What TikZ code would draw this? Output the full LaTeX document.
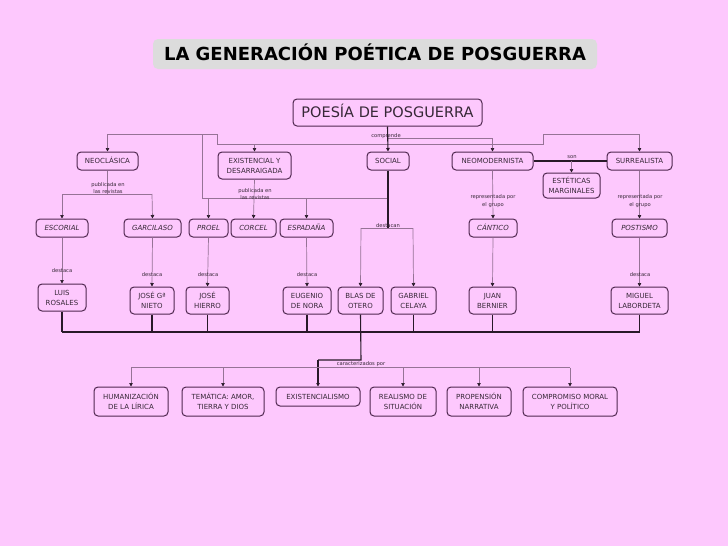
\documentclass[tikz,border=0pt]{standalone}
\usepackage{fontspec}
\setmainfont{DejaVu Sans}
\usetikzlibrary{arrows.meta}
\definecolor{bg}{RGB}{253,200,253}
\definecolor{boxc}{RGB}{80,40,80}
\definecolor{txt}{RGB}{55,40,55}
\definecolor{thinc}{RGB}{150,115,150}
\definecolor{thickc}{RGB}{40,25,40}
\definecolor{titlebg}{RGB}{220,220,220}
\newcommand{\boxfont}{\fontsize{7}{10}\selectfont}
\newcommand{\labfont}{\fontsize{5.2}{7.2}\selectfont}
\tikzset{
  cbox/.style={draw=boxc, line width=1pt, rounded corners=4pt, fill=bg, text=txt, font=\boxfont, align=center, inner sep=0pt},
  sbox/.style={cbox, text height=5.1pt, text depth=0pt},
  ibox/.style={sbox, font=\boxfont\itshape},
  lab/.style={font=\labfont, text=txt, inner sep=0pt, align=center},
  thinline/.style={draw=thinc, line width=0.7pt},
  thickline/.style={draw=thickc, line width=1.1pt},
  arr/.style={-{Triangle[length=3.5pt,width=3.5pt,color=thickc]}},
}
\begin{document}
\begin{tikzpicture}[x=1pt,y=-1pt]
\path[fill=bg] (0,0) rectangle (728,546);
\useasboundingbox (0,0) rectangle (728,546);

% title
\node[fill=titlebg, rounded corners=5pt, minimum width=444pt, minimum height=30pt, inner sep=0pt, text height=13pt, text depth=0pt, font=\fontsize{18}{21}\selectfont\bfseries] (title) at (375,54) {LA GENERACIÓN POÉTICA DE POSGUERRA};

% main
\node[cbox, font=\fontsize{14.5}{16}\selectfont, text height=10.5pt, text depth=0pt, minimum width=189pt, minimum height=27pt] (poesia) at (387.5,112.5) {POESÍA DE POSGUERRA};

% row 1
\node[sbox, minimum width=61pt, minimum height=18pt] (neo) at (107.5,161) {NEOCLÁSICA};
\node[cbox, minimum width=73pt, minimum height=27pt] (exis) at (254.5,165.5) {EXISTENCIAL Y\\DESARRAIGADA};
\node[sbox, minimum width=42pt, minimum height=18pt] (social) at (388,161) {SOCIAL};
\node[sbox, minimum width=81pt, minimum height=18pt] (neomod) at (492.5,161) {NEOMODERNISTA};
\node[sbox, minimum width=65pt, minimum height=18pt] (surr) at (639.5,161) {SURREALISTA};
\node[cbox, minimum width=57pt, minimum height=25pt] (estet) at (571.5,185.5) {ESTÉTICAS\\MARGINALES};

% row 2
\node[ibox, minimum width=52pt, minimum height=18pt] (escorial) at (62,228) {ESCORIAL};
\node[ibox, minimum width=57pt, minimum height=18pt] (garcilaso) at (152.5,228) {GARCILASO};
\node[ibox, minimum width=39pt, minimum height=18pt] (proel) at (208.5,228) {PROEL};
\node[ibox, minimum width=45pt, minimum height=18pt] (corcel) at (253.5,228) {CORCEL};
\node[ibox, minimum width=53pt, minimum height=18pt] (espadana) at (306.5,228) {ESPADAÑA};
\node[ibox, minimum width=48pt, minimum height=18pt] (cantico) at (493,228) {CÁNTICO};
\node[ibox, minimum width=55pt, minimum height=18pt] (postismo) at (639.5,228) {POSTISMO};

% row 3
\node[cbox, minimum width=48pt, minimum height=27pt] (luis) at (62,297.5) {LUIS\\ROSALES};
\node[cbox, minimum width=44pt, minimum height=27pt] (josen) at (152,300.5) {JOSÉ Gª\\NIETO};
\node[cbox, minimum width=43pt, minimum height=27pt] (joseh) at (207.5,300.5) {JOSÉ\\HIERRO};
\node[cbox, minimum width=48pt, minimum height=27pt] (eugenio) at (307,300.5) {EUGENIO\\DE NORA};
\node[cbox, minimum width=45pt, minimum height=27pt] (blas) at (360.5,300.5) {BLAS DE\\OTERO};
\node[cbox, minimum width=45pt, minimum height=27pt] (gabriel) at (413.5,300.5) {GABRIEL\\CELAYA};
\node[cbox, minimum width=47pt, minimum height=27pt] (juan) at (492.5,300.5) {JUAN\\BERNIER};
\node[cbox, minimum width=57pt, minimum height=27pt] (miguel) at (639.5,300.5) {MIGUEL\\LABORDETA};

% row 4
\node[cbox, minimum width=74pt, minimum height=29pt] (human) at (131,401.5) {HUMANIZACIÓN\\DE LA LÍRICA};
\node[cbox, minimum width=82pt, minimum height=29pt] (tematica) at (223,401.5) {TEMÁTICA: AMOR,\\TIERRA Y DIOS};
\node[sbox, minimum width=84pt, minimum height=19pt] (existencialismo) at (318,396.5) {EXISTENCIALISMO};
\node[cbox, minimum width=66pt, minimum height=29pt] (realismo) at (403,401.5) {REALISMO DE\\SITUACIÓN};
\node[cbox, minimum width=64pt, minimum height=29pt] (propension) at (479,401.5) {PROPENSIÓN\\NARRATIVA};
\node[cbox, minimum width=94pt, minimum height=29pt] (compromiso) at (570,401.5) {COMPROMISO MORAL\\Y POLÍTICO};

% junction coordinates
\coordinate (cA) at (387,138);
\coordinate (cB) at (217,144);
\coordinate (cC) at (543,144);
\coordinate (cD) at (543,134);
\coordinate (cE) at (217,134);
\coordinate (cF) at (202,134);
\coordinate (cG) at (202,198);
\coordinate (cH) at (387,198);
\coordinate (pubA) at (62,194);
\coordinate (pubB) at (152,194);
\coordinate (desA) at (361,228);
\coordinate (desB) at (413,228);
\coordinate (desS) at (388,228);
\coordinate (bottomL) at (62,332);
\coordinate (bottomR) at (640,332);
\coordinate (carA) at (361,360);
\coordinate (carB) at (318,360);
\coordinate (carL) at (131,367.5);
\coordinate (carR) at (570,367.5);

% comprende connectors (thin)
\draw[thinline, arr] (cA) -| (neomod.north);
\draw[thinline] (cB) -- (cC) -- (cD);
\draw[thinline, arr] (cD) -| (surr.north);
\draw[thinline, arr] (cB) -| (exis.north);
\draw[thinline] (cB) -- (cE);
\draw[thinline, arr] (cE) -| (neo.north);
\draw[thinline] (cF) -- (cG) -- (cH);

% thick main stem
\draw[thickline, arr] (poesia.south) -- (social.north);

% son
\draw[thickline] (neomod.east) -- (surr.west);
\coordinate (sonJ) at (estet.north |- neomod.east);
\draw[thinline, arr] (sonJ) -- (estet.north);

% neoclasica
\draw[thinline] (neo.south) -- (neo.south |- pubA);
\draw[thinline] (pubA) -- (pubB);
\draw[thinline, arr] (pubA) -- (escorial.north);
\draw[thinline, arr] (pubB) -- (garcilaso.north);

% existencial
\draw[thinline, arr] (exis.south) -- (corcel.north);
\draw[thinline, arr] (proel.north |- cG) -- (proel.north);
\draw[thinline, arr] (espadana.north |- cG) -- (espadana.north);

% social
\draw[thickline] (social.south) -- (desS);
\draw[thinline] (desA) -- (desB);
\draw[thinline, arr] (desA) -- (blas.north);
\draw[thinline, arr] (desB) -- (gabriel.north);

% neomodernista / surrealista
\draw[thinline, arr] (neomod.south) -- (cantico.north);
\draw[thinline, arr] (surr.south) -- (postismo.north);

% row2 -> row3
\draw[thinline, arr] (escorial.south) -- (luis.north);
\draw[thinline, arr] (garcilaso.south) -- (josen.north);
\draw[thinline, arr] (proel.south) -- (joseh.north);
\draw[thinline, arr] (espadana.south) -- (eugenio.north);
\draw[thinline, arr] (cantico.south) -- (juan.north);
\draw[thinline, arr] (postismo.south) -- (miguel.north);

% bottom collector
\draw[thickline] (bottomL) -- (bottomR);
\foreach \n in {luis,josen,joseh,eugenio,gabriel,juan,miguel}
  \draw[thickline] (\n.south) -- (\n.south |- bottomL);
\draw[thickline] (blas.south) -- (carA) -- (carB);
\draw[thickline, arr] (carB) -- (existencialismo.north);

% caracterizados
\draw[thinline] (carL) -- (carR);
\foreach \n in {human,tematica,realismo,propension,compromiso}
  \draw[thinline, arr] (\n.north |- carL) -- (\n.north);

% labels
\node[lab] (lcomp) at (386,136) {comprende};
\node[lab] (lson) at (572,157) {son};
\node[lab] (lpub1) at (108,188) {publicada en\\las revistas};
\node[lab] (lpub2) at (255,194) {publicada en\\las revistas};
\node[lab] (lrep1) at (493,201) {representada por\\el grupo};
\node[lab] (lrep2) at (640,201) {representada por\\el grupo};
\node[lab] (ldestacan) at (388,225.5) {destacan};
\node[lab] (ld1) at (62,271) {destaca};
\node[lab] (ld2) at (152,274.5) {destaca};
\node[lab] (ld3) at (208,274.5) {destaca};
\node[lab] (ld4) at (307,274.5) {destaca};
\node[lab] (ld5) at (640,274.5) {destaca};
\node[lab] (lcar) at (361,364) {caracterizados por};
\end{tikzpicture}
\end{document}
